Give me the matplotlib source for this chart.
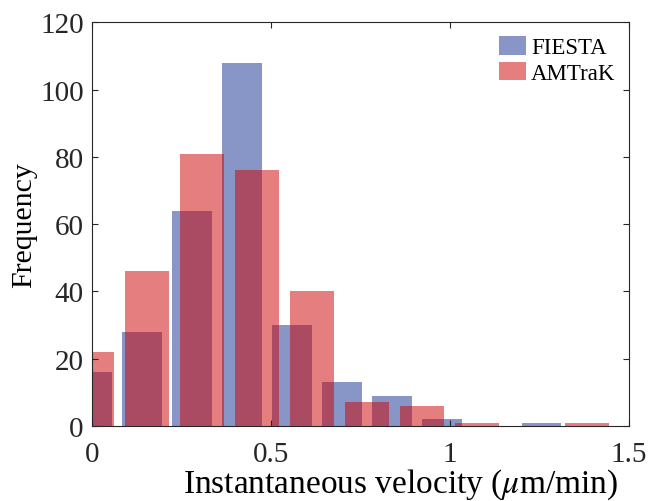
import numpy as np
import matplotlib
matplotlib.use('Agg')
import matplotlib.pyplot as plt

# bin centres (um/min) and counts
fiesta_centers = [0.0, 0.1395, 0.279, 0.4185, 0.558, 0.6975, 0.837, 0.9765, 1.116, 1.2555]
fiesta_counts = [16, 28, 64, 108, 30, 13, 9, 2, 0, 1]
amtrak_centers = [0.0, 0.1535, 0.307, 0.4605, 0.614, 0.7675, 0.921, 1.0745, 1.228, 1.3815]
amtrak_counts = [22, 46, 81, 76, 40, 7, 6, 1, 0, 1]
labels = ['FIESTA', 'AMTraK']

xticks = [0, 0.5, 1, 1.5]
xticklabels = ['0', '0.5', '1', '1.5']
yticks = [0, 20, 40, 60, 80, 100, 120]

plt.rcParams['font.family'] = ['Liberation Serif', 'DejaVu Serif']
plt.rcParams['mathtext.fontset'] = 'stix'

fig = plt.figure(figsize=(6.49, 5.02), dpi=100)
ax = fig.add_axes([0.1418, 0.1494, 0.8274, 0.8038])

blue = (19/255, 45/255, 145/255)
red = (205/255, 0, 0)

w_f = 0.8 * np.diff(fiesta_centers).mean()
w_a = 0.8 * np.diff(amtrak_centers).mean()
ax.bar(fiesta_centers, fiesta_counts, width=w_f, color=blue, alpha=0.5,
       edgecolor='none', label=labels[0])
ax.bar(amtrak_centers, amtrak_counts, width=w_a, color=red, alpha=0.5,
       edgecolor='none', label=labels[1])

ax.set_xlim(0, 1.5)
ax.set_ylim(0, 120)
ax.set_xticks(xticks)
ax.set_xticklabels(xticklabels)
ax.set_yticks(yticks)

grey = (0.15, 0.15, 0.15)
for s in ax.spines.values():
    s.set_color(grey)
    s.set_linewidth(0.8)
    s.set_zorder(5)
ax.tick_params(direction='in', top=True, right=True, length=4, width=0.8,
               colors=grey, labelsize=21)
ax.tick_params(axis='x', pad=11)
ax.tick_params(axis='y', pad=6)

ax.set_xlabel(r'Instantaneous velocity ($\mu$m/min)', fontsize=24, color='black')
ax.xaxis.label.set_verticalalignment('baseline')
ax.xaxis.set_label_coords(0.574, -0.164)
ax.set_ylabel('Frequency', fontsize=21.5, color='black')
ax.yaxis.set_label_coords(-0.102, 0.5)

leg = ax.legend(loc='upper right', frameon=False, fontsize=16.5, handlelength=1.18,
                handleheight=0.85, handletextpad=0.2, labelspacing=0.15,
                borderaxespad=0.2)

plt.savefig('out.png', dpi=100)
